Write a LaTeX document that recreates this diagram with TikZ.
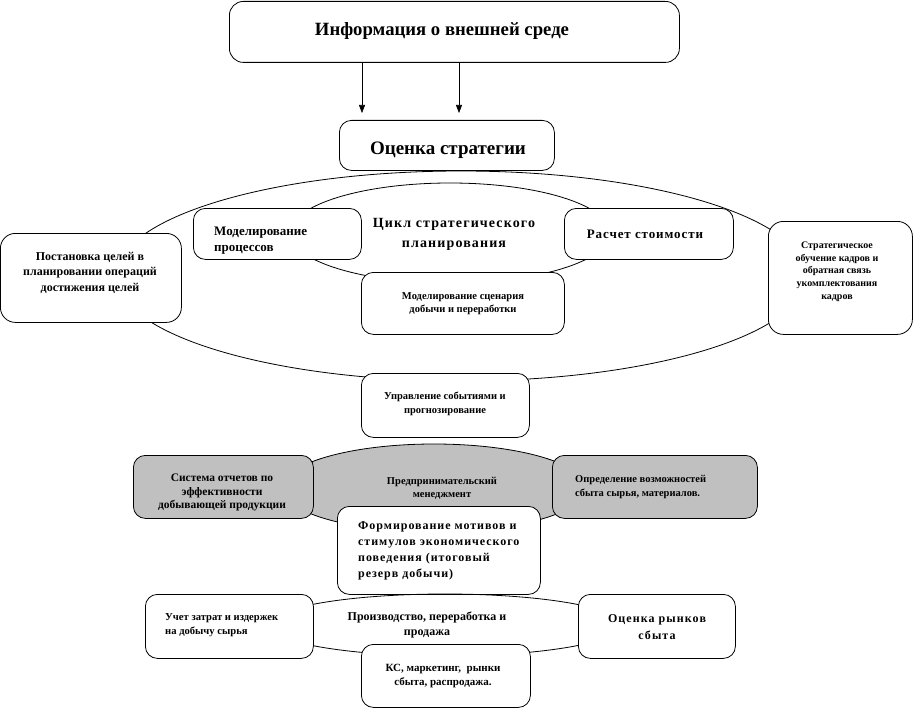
\documentclass[tikz,border=0pt]{standalone}
\usepackage{fontspec}
\setmainfont{Liberation Serif}
\usetikzlibrary{arrows.meta,shapes.geometric}
\definecolor{greyfill}{HTML}{C0C0C0}
\newcommand{\fsz}[2]{\fontsize{#1}{#2}\selectfont}
\begin{document}
\begin{tikzpicture}[x=1pt,y=-1pt,
  box/.style={draw, line width=0.8pt, rounded corners=12pt, fill=white, inner sep=0pt, anchor=north west},
  gbox/.style={box, fill=greyfill},
  ell/.style={draw, line width=0.8pt, ellipse, inner sep=0pt},
  lbl/.style={inner sep=0pt, font=\bfseries},
  arr/.style={line width=0.6pt, -{Triangle[length=8pt,width=6pt]}}]
\useasboundingbox (0,0) rectangle (914,709);

% ---- top ----
\node[box, rounded corners=14pt, minimum width=450pt, minimum height=61pt] (info) at (229,1) {};
\node[lbl, font=\bfseries\fsz{18.7}{20}] (tinfo) at (442,31) {Информация о внешней среде};
\node[box, minimum width=215pt, minimum height=50pt] (ocs) at (339,120) {};
\node[lbl, font=\bfseries\fsz{19}{21}] (tocs) at (448,150) {Оценка стратегии};
\coordinate (a1) at (362,113);
\coordinate (a2) at (459,113);
\draw[arr] (info.south -| a1) -- (a1);
\draw[arr] (info.south -| a2) -- (a2);

% ---- middle cycle ----
\node[ell, minimum width=690pt, minimum height=210pt] (outer) at (461,276) {};
\node[ell, minimum width=320pt, minimum height=100pt] (inner) at (450,233) {};
\node[lbl, align=center, font=\bfseries\fsz{14}{20}\addfontfeature{LetterSpace=8}] (tcyc) at (454,234) {Цикл стратегического\\планирования};

\node[box, minimum width=168pt, minimum height=51pt] (mp) at (193,208) {};
\node[lbl, anchor=west, align=left, font=\bfseries\fsz{13}{16}] (tmp) at (214,241) {Моделирование\\процессов};
\node[box, minimum width=169pt, minimum height=51pt] (rs) at (564,208) {};
\node[lbl, font=\bfseries\fsz{13}{16}\addfontfeature{LetterSpace=7}] (trs) at (645,234) {Расчет стоимости};
\node[box, minimum width=203pt, minimum height=62pt] (ms) at (361,272) {};
\node[lbl, align=center, font=\bfseries\fsz{10.5}{13}] (tms) at (463,303.5) {Моделирование сценария\\добычи и переработки};
\node[box, minimum width=168pt, minimum height=64pt] (us) at (361,373) {};
\node[lbl, align=center, font=\bfseries\fsz{10.5}{14}] (tus) at (445,404) {Управление событиями и\\прогнозирование};
\node[box, rounded corners=15pt, minimum width=181pt, minimum height=89pt] (pc) at (0,233) {};
\node[lbl, align=center, font=\bfseries\fsz{12}{15.5}] (tpc) at (90,272.5) {Постановка целей в\\планировании операций\\достижения целей};
\node[box, rounded corners=15pt, minimum width=144pt, minimum height=113pt] (so) at (768,221) {};
\node[lbl, align=center, font=\bfseries\fsz{10}{12.7}] (tso) at (837,271.5) {Стратегическое\\обучение кадров и\\обратная связь\\укомплектования\\кадров};

% ---- bottom: management ----
\node[ell, fill=greyfill, minimum width=304pt, minimum height=88pt] (pm) at (434,488) {};
\node[gbox, minimum width=180pt, minimum height=63pt] (sys) at (133,455) {};
\node[lbl, align=center, font=\bfseries\fsz{11.5}{13.5}] (tsys) at (222,492.5) {Система отчетов по\\эффективности\\добывающей продукции};
\node[gbox, minimum width=205pt, minimum height=63pt] (opr) at (552,455) {};
\node[lbl, anchor=west, align=left, font=\bfseries\fsz{10.5}{14}] (topr) at (575,487) {Определение возможностей\\сбыта сырья, материалов.};
\node[lbl, align=center, font=\bfseries\fsz{10.5}{13}] (tpm) at (442,488) {Предпринимательский\\менеджмент};
\node[box, minimum width=203pt, minimum height=88pt] (fm) at (337,506) {};
\node[lbl, anchor=west, align=left, font=\bfseries\fsz{12}{16}\addfontfeature{LetterSpace=8}] (tfm) at (358,551) {Формирование мотивов и\\стимулов экономического\\поведения (итоговый\\резерв добычи)};

% ---- bottom: production ----
\node[ell, minimum width=354pt, minimum height=62pt] (pr) at (445,625) {};
\node[box, minimum width=168pt, minimum height=64pt] (uz) at (145,594) {};
\node[lbl, anchor=west, align=left, font=\bfseries\fsz{10.6}{14}] (tuz) at (165,625) {Учет затрат и издержек\\на добычу сырья};
\node[box, minimum width=157pt, minimum height=64pt] (or) at (578,594) {};
\node[lbl, align=center, font=\bfseries\fsz{12}{17}\addfontfeature{LetterSpace=9}] (tor) at (657,627) {Оценка рынков\\сбыта};
\node[box, minimum width=169pt, minimum height=63pt] (ks) at (361,644) {};
\node[lbl, align=center, font=\bfseries\fsz{11}{14}] (tks) at (443,676) {КС, маркетинг,\ \ рынки\\сбыта, распродажа.};
\node[lbl, align=center, font=\bfseries\fsz{12}{15}] (tpr) at (427,625) {Производство, переработка и\\продажа};
\end{tikzpicture}
\end{document}
